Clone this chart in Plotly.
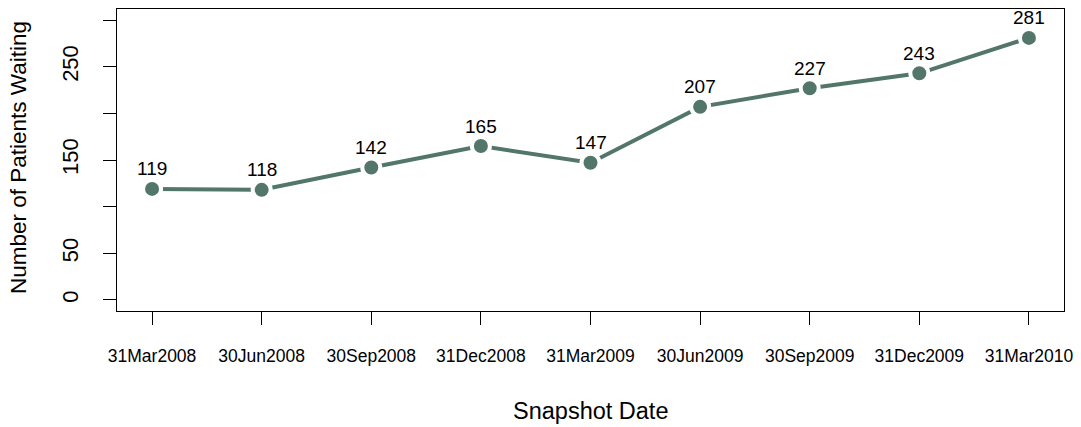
import plotly.graph_objects as go

dates = ["31Mar2008", "30Jun2008", "30Sep2008", "31Dec2008", "31Mar2009",
         "30Jun2009", "30Sep2009", "31Dec2009", "31Mar2010"]
waiting = [119, 118, 142, 165, 147, 207, 227, 243, 281]
y_tickvals = [0, 50, 100, 150, 200, 250, 300]
y_ticktext = ["0", "50", "", "150", "", "250", ""]

xpos = list(range(1, len(dates) + 1))
FONT = "Liberation Sans, Arial, Helvetica, sans-serif"
COLOR = "#52766a"

fig = go.Figure()
fig.add_trace(go.Scatter(
    x=xpos, y=waiting, mode="lines+markers",
    line=dict(color=COLOR, width=4),
    marker=dict(color=COLOR, size=18, line=dict(color="white", width=4)),
    hoverinfo="skip", showlegend=False,
))

for xi, v in zip(xpos, waiting):
    fig.add_annotation(x=xi, y=v, text=str(v), showarrow=False,
                       yshift=20, font=dict(family=FONT, size=19, color="black"))

fig.add_annotation(x=0.5, y=0, xref="paper", yref="paper", text="Snapshot Date",
                   showarrow=False, yanchor="middle", yshift=-100,
                   font=dict(family=FONT, size=23.5, color="black"))
fig.add_annotation(x=0, y=0.5, xref="paper", yref="paper", text="Number of Patients Waiting",
                   showarrow=False, xanchor="center", xshift=-99, yshift=2, textangle=-90,
                   font=dict(family=FONT, size=22.5, color="black"))

fig.update_layout(
    width=1081, height=427,
    margin=dict(l=117, r=14, t=8, b=116),
    paper_bgcolor="white", plot_bgcolor="white",
    font=dict(family=FONT, color="black"),
    hovermode=False,
    xaxis=dict(range=[0.68, 9.32], tickvals=xpos, ticktext=dates,
               showgrid=False, zeroline=False,
               showline=True, mirror=True, linecolor="black", linewidth=1,
               ticks="outside", ticklen=13, tickwidth=1, tickcolor="black",
               tickfont=dict(family=FONT, size=17.5, color="black"),
               ticklabelstandoff=16),
    yaxis=dict(range=[-12, 312], tickvals=y_tickvals, ticktext=y_ticktext,
               showgrid=False, zeroline=False,
               showline=True, mirror=True, linecolor="black", linewidth=1,
               ticks="outside", ticklen=13, tickwidth=1, tickcolor="black",
               tickangle=-90,
               tickfont=dict(family=FONT, size=22, color="black"),
               ticklabelstandoff=16),
)

fig.write_html("out.html",
               config={"displayModeBar": False, "staticPlot": True},
               post_script="document.body.style.margin='0';document.body.style.overflow='hidden';")
